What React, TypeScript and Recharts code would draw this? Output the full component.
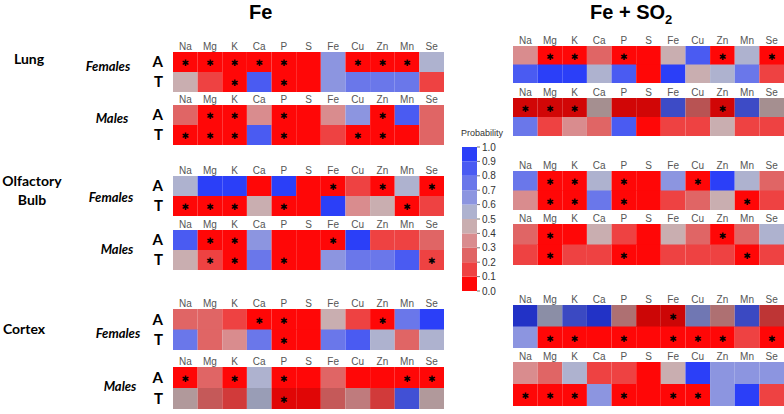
import React from 'react';
import { BarChart, Bar, XAxis, YAxis, Cell, LabelList } from 'recharts';

const elements = ['Na', 'Mg', 'K', 'Ca', 'P', 'S', 'Fe', 'Cu', 'Zn', 'Mn', 'Se'];
const rowLabels = ['A', 'T'];
const legendTicks = [0, 0.1, 0.2, 0.3, 0.4, 0.5, 0.6, 0.7, 0.8, 0.9, 1.0];

// Fe exposure, probabilities per element (Na..Se)
const feLungFemA = [0.03, 0.03, 0.03, 0.03, 0.03, 0.04, 0.65, 0.03, 0.03, 0.03, 0.55];
const feLungFemT = [0.45, 0.15, 0.04, 0.8, 0.03, 0.04, 0.65, 0.75, 0.75, 0.78, 0.12];
const feLungFemAStars = ['Na', 'Mg', 'K', 'Ca', 'P', 'Cu', 'Zn', 'Mn'];
const feLungFemTStars = ['K', 'P'];

const feLungMalA = [0.25, 0.03, 0.03, 0.35, 0.03, 0.04, 0.35, 0.62, 0.03, 0.88, 0.28];
const feLungMalT = [0.03, 0.03, 0.03, 0.85, 0.03, 0.04, 0.15, 0.03, 0.03, 0.03, 0.28];
const feLungMalAStars = ['Mg', 'K', 'P', 'Zn'];
const feLungMalTStars = ['Na', 'Mg', 'K', 'P', 'Cu', 'Zn'];

const feOlfFemA = [0.55, 0.9, 0.9, 0.03, 0.9, 0.03, 0.03, 0.15, 0.03, 0.55, 0.03];
const feOlfFemT = [0.03, 0.03, 0.03, 0.45, 0.03, 0.03, 0.9, 0.35, 0.45, 0.03, 0.15];
const feOlfFemAStars = ['Fe', 'Zn', 'Se'];
const feOlfFemTStars = ['Na', 'Mg', 'K', 'P', 'Mn'];

const feOlfMalA = [0.85, 0.03, 0.03, 0.6, 0.03, 0.03, 0.03, 0.92, 0.15, 0.15, 0.28];
const feOlfMalT = [0.45, 0.15, 0.03, 0.72, 0.03, 0.04, 0.65, 0.72, 0.72, 0.82, 0.15];
const feOlfMalAStars = ['Mg', 'K', 'Fe'];
const feOlfMalTStars = ['Mg', 'K', 'P', 'Se'];

const feCtxFemA = [0.25, 0.25, 0.18, 0.03, 0.03, 0.03, 0.45, 0.15, 0.03, 0.72, 0.9];
const feCtxFemT = [0.78, 0.25, 0.35, 0.75, 0.03, 0.03, 0.72, 0.88, 0.55, 0.25, 0.55];
const feCtxFemAStars = ['Ca', 'P', 'Zn'];
const feCtxFemTStars = ['P'];

const feCtxMalA = [0.03, 0.25, 0.03, 0.55, 0.03, 0.03, 0.25, 0.03, 0.04, 0.03, 0.03];
const feCtxMalT = [0.45, 0.25, 0.18, 0.55, 0.03, 0.04, 0.25, 0.35, 0.15, 0.85, 0.4];
const feCtxMalAStars = ['Na', 'K', 'P', 'Mn', 'Se'];
const feCtxMalTStars = ['P'];

// Fe + SO2 exposure
const soLungFemA = [0.35, 0.03, 0.03, 0.25, 0.03, 0.03, 0.45, 0.85, 0.03, 0.55, 0.03];
const soLungFemT = [0.85, 0.92, 0.92, 0.55, 0.88, 0.03, 0.9, 0.45, 0.55, 0.72, 0.15];
const soLungFemAStars = ['Mg', 'K', 'P', 'Zn', 'Se'];
const soLungFemTStars: string[] = [];

const soLungMalA = [0.05, 0.05, 0.05, 0.45, 0.05, 0.05, 0.85, 0.28, 0.05, 0.82, 0.45];
const soLungMalT = [0.72, 0.15, 0.38, 0.25, 0.85, 0.03, 0.15, 0.15, 0.45, 0.15, 0.15];
const soLungMalAStars = ['Na', 'Mg', 'K', 'Zn'];
const soLungMalTStars: string[] = [];

const soOlfFemA = [0.75, 0.03, 0.03, 0.55, 0.03, 0.03, 0.6, 0.03, 0.95, 0.55, 0.25];
const soOlfFemT = [0.35, 0.03, 0.03, 0.75, 0.03, 0.03, 0.15, 0.25, 0.45, 0.03, 0.15];
const soOlfFemAStars = ['Mg', 'K', 'P', 'Cu'];
const soOlfFemTStars = ['Mg', 'K', 'P', 'Mn'];

const soOlfMalA = [0.25, 0.03, 0.04, 0.45, 0.15, 0.03, 0.45, 0.25, 0.03, 0.25, 0.55];
const soOlfMalT = [0.15, 0.03, 0.15, 0.15, 0.03, 0.03, 0.15, 0.15, 0.15, 0.03, 0.15];
const soOlfMalAStars = ['Mg', 'Zn'];
const soOlfMalTStars = ['Mg', 'P', 'Mn'];

const soCtxFemA = [0.9, 0.55, 0.88, 0.9, 0.3, 0.05, 0.05, 0.65, 0.33, 0.88, 0.12];
const soCtxFemT = [0.65, 0.03, 0.03, 0.03, 0.03, 0.03, 0.03, 0.03, 0.03, 0.15, 0.03];
const soCtxFemAStars = ['Fe'];
const soCtxFemTStars = ['Mg', 'K', 'P', 'Fe', 'Cu', 'Zn', 'Se'];

const soCtxMalA = [0.35, 0.25, 0.55, 0.15, 0.18, 0.03, 0.45, 0.92, 0.65, 0.68, 0.62];
const soCtxMalT = [0.03, 0.03, 0.03, 0.65, 0.03, 0.03, 0.03, 0.03, 0.65, 0.92, 0.15];
const soCtxMalAStars: string[] = [];
const soCtxMalTStars = ['Na', 'Mg', 'K', 'P', 'Fe', 'Cu'];

// red (0) -> blue (1)
const palette = [
  '#ff0707', '#ee4242', '#e06565', '#d98c8e', '#c9aeb0',
  '#aeb2cf', '#8c95e0', '#6a77ea', '#4a5bf2', '#2b3ff8',
];

const colorFor = (v: number, dim = 1) => {
  const c = palette[Math.min(9, Math.floor(v * 10))];
  if (dim === 1) return c;
  const n = parseInt(c.slice(1), 16);
  const r = Math.round(((n >> 16) & 255) * dim);
  const g = Math.round(((n >> 8) & 255) * dim);
  const b = Math.round((n & 255) * dim);
  return `rgb(${r},${g},${b})`;
};

const HEADER = 14;
const FE_X = 173;
const SO_X = 513;
const BLOCK_W = 271;

const blocks = [
  { key: 'feLungFem', x: FE_X, top: 38, rowH: 20, axis: true, a: feLungFemA, t: feLungFemT, sa: feLungFemAStars, st: feLungFemTStars },
  { key: 'feLungMal', x: FE_X, top: 91, rowH: 20, axis: true, a: feLungMalA, t: feLungMalT, sa: feLungMalAStars, st: feLungMalTStars },
  { key: 'feOlfFem', x: FE_X, top: 162, rowH: 20, axis: true, a: feOlfFemA, t: feOlfFemT, sa: feOlfFemAStars, st: feOlfFemTStars },
  { key: 'feOlfMal', x: FE_X, top: 216, rowH: 20, axis: true, a: feOlfMalA, t: feOlfMalT, sa: feOlfMalAStars, st: feOlfMalTStars },
  { key: 'feCtxFem', x: FE_X, top: 295, rowH: 20.5, axis: true, a: feCtxFemA, t: feCtxFemT, sa: feCtxFemAStars, st: feCtxFemTStars },
  { key: 'feCtxMal', x: FE_X, top: 353, rowH: 21, axis: true, a: feCtxMalA, t: feCtxMalT, sa: feCtxMalAStars, st: feCtxMalTStars, dim: [1, 0.88] },
  { key: 'soLungFem', x: SO_X, top: 32, rowH: 18.5, axis: false, a: soLungFemA, t: soLungFemT, sa: soLungFemAStars, st: soLungFemTStars },
  { key: 'soLungMal', x: SO_X, top: 84, rowH: 19, axis: false, a: soLungMalA, t: soLungMalT, sa: soLungMalAStars, st: soLungMalTStars, dim: [0.82, 1] },
  { key: 'soOlfFem', x: SO_X, top: 157, rowH: 19.5, axis: false, a: soOlfFemA, t: soOlfFemT, sa: soOlfFemAStars, st: soOlfFemTStars },
  { key: 'soOlfMal', x: SO_X, top: 210, rowH: 20.5, axis: false, a: soOlfMalA, t: soOlfMalT, sa: soOlfMalAStars, st: soOlfMalTStars },
  { key: 'soCtxFem', x: SO_X, top: 291, rowH: 21.5, axis: false, a: soCtxFemA, t: soCtxFemT, sa: soCtxFemAStars, st: soCtxFemTStars, dim: [0.8, 1] },
  { key: 'soCtxMal', x: SO_X, top: 348, rowH: 22, axis: false, a: soCtxMalA, t: soCtxMalT, sa: soCtxMalAStars, st: soCtxMalTStars },
];

const tickPos = elements.map((_, i) => i + 0.5);

const labelFont = 'Lato, "Open Sans", sans-serif';
const headFont = '"Liberation Sans", Arial, sans-serif';

const Star = (p: any, stars: string[][], el: string) => {
  const vb = p.viewBox || p;
  const idx = p.index;
  if (idx == null || !stars[idx] || !stars[idx].includes(el)) return null;
  return (
    <text
      x={vb.x + vb.width / 2}
      y={vb.y + vb.height / 2 + 1}
      textAnchor="middle"
      dominantBaseline="central"
      fontSize={9}
      fontFamily="DejaVu Sans"
      fill="#000"
    >
      ✱
    </text>
  );
};

const HeatBlock = ({ b }: { b: any }) => {
  const data = rowLabels.map((r) => {
    const o: any = { row: r };
    elements.forEach((e) => (o[e] = 1));
    return o;
  });
  const vals = [b.a, b.t];
  const stars = [b.sa, b.st];
  const dim = b.dim || [1, 1];
  const yw = b.axis ? 33 : 0;
  return (
    <div style={{ position: 'absolute', left: b.x - yw, top: b.top }}>
      <BarChart
        layout="vertical"
        width={BLOCK_W + yw}
        height={HEADER + 2 * b.rowH}
        data={data}
        margin={{ top: 0, right: 0, bottom: 0, left: 0 }}
        barCategoryGap={0}
      >
        <XAxis
          type="number"
          orientation="top"
          domain={[0, 11]}
          ticks={tickPos}
          interval={0}
          tickFormatter={(v: number) => elements[Math.floor(v)]}
          axisLine={false}
          tickLine={false}
          tickSize={0}
          tickMargin={2}
          height={HEADER}
          tick={{ fontSize: 10, fill: '#555', fontFamily: headFont }}
        />
        <YAxis
          type="category"
          dataKey="row"
          width={yw}
          hide={!b.axis}
          interval={0}
          axisLine={false}
          tickLine={false}
          tickSize={8}
          tick={{ fontSize: 15, fill: '#000', fontWeight: 'bold', fontFamily: labelFont }}
        />
        {elements.map((e, j) => (
          <Bar key={e} dataKey={e} stackId="s" isAnimationActive={false}>
            {data.map((_, i) => (
              <Cell key={i} fill={colorFor(vals[i][j], dim[i])} />
            ))}
            <LabelList dataKey={e} content={(p: any) => Star(p, stars, e)} />
          </Bar>
        ))}
      </BarChart>
    </div>
  );
};

const legendData = [
  palette.reduce((o: any, _, i) => {
    o[`b${i}`] = 0.1;
    return o;
  }, { k: 'p' }),
];

const ProbLegend = () => (
  <div style={{ position: 'absolute', left: 462, top: 142 }}>
    <BarChart width={50} height={154} data={legendData} margin={{ top: 5, right: 0, bottom: 5, left: 0 }} barCategoryGap={0}>
      <XAxis dataKey="k" hide />
      <YAxis
        type="number"
        orientation="right"
        domain={[0, 1]}
        ticks={legendTicks}
        interval={0}
        tickFormatter={(v: number) => v.toFixed(1)}
        axisLine={false}
        tickLine={{ stroke: '#777' }}
        tickSize={3}
        tickMargin={2}
        width={35}
        tick={{ fontSize: 10, fill: '#333', fontFamily: headFont }}
      />
      {palette.map((c, i) => (
        <Bar key={i} dataKey={`b${i}`} stackId="l" fill={c} isAnimationActive={false} />
      ))}
    </BarChart>
  </div>
);

const sideLabels = [
  { text: 'Lung', x: 29, y: 58, italic: false },
  { text: 'Females', x: 108, y: 66, italic: true },
  { text: 'Males', x: 112, y: 118, italic: true },
  { text: 'Olfactory', x: 32, y: 180, italic: false },
  { text: 'Bulb', x: 32, y: 199, italic: false },
  { text: 'Females', x: 111, y: 197, italic: true },
  { text: 'Males', x: 117, y: 249, italic: true },
  { text: 'Cortex', x: 24, y: 328, italic: false },
  { text: 'Females', x: 118, y: 333, italic: true },
  { text: 'Males', x: 120, y: 386, italic: true },
];

export default function App() {
  return (
    <div
      style={{
        position: 'absolute',
        left: 0,
        top: 0,
        width: 784,
        height: 414,
        background: '#fff',
        overflow: 'hidden',
        fontFamily: labelFont,
      }}
    >
      <div style={{ position: 'absolute', left: 249, top: 1, fontSize: 20, fontWeight: 'bold', fontFamily: headFont }}>Fe</div>
      <div style={{ position: 'absolute', left: 590, top: 1, fontSize: 20, fontWeight: 'bold', fontFamily: headFont, whiteSpace: 'nowrap' }}>
        Fe + SO<sub style={{ fontSize: 13 }}>2</sub>
      </div>
      {sideLabels.map((l, i) => (
        <div
          key={i}
          style={{
            position: 'absolute',
            left: l.x,
            top: l.y,
            transform: 'translate(-50%, -50%)',
            fontSize: l.italic ? 13 : 14,
            fontWeight: 'bold',
            fontStyle: l.italic ? 'italic' : 'normal',
            whiteSpace: 'nowrap',
            color: '#000',
          }}
        >
          {l.text}
        </div>
      ))}
      <div style={{ position: 'absolute', left: 461, top: 128, fontSize: 9, color: '#333', fontFamily: headFont }}>Probability</div>
      <ProbLegend />
      {blocks.map((b) => (
        <HeatBlock key={b.key} b={b} />
      ))}
    </div>
  );
}
